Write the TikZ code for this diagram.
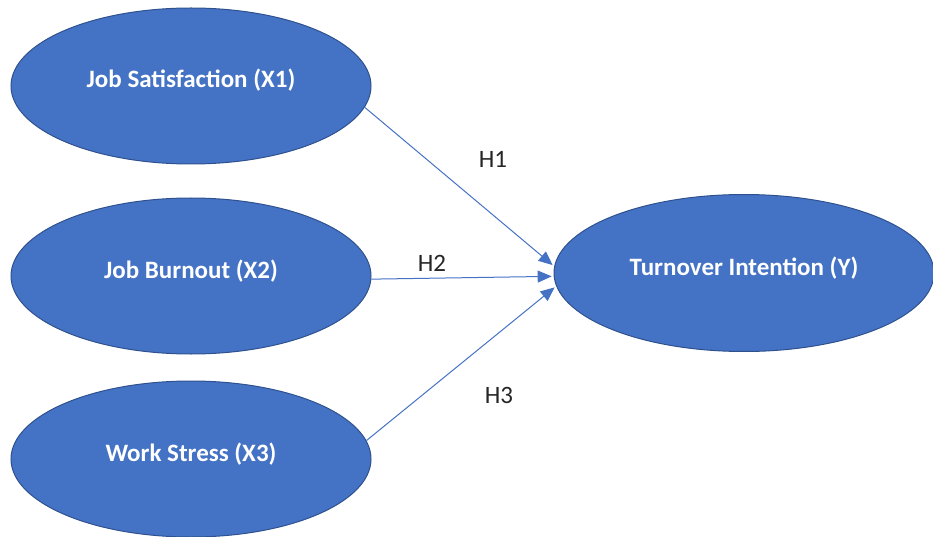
\documentclass[tikz,border=0pt]{standalone}
\usepackage{fontspec}
\setmainfont{Carlito}
\usetikzlibrary{shapes.geometric,arrows.meta}
\definecolor{boxblue}{HTML}{4472C4}
\definecolor{rimblue}{HTML}{2F528F}

\begin{document}
\begin{tikzpicture}[x=1pt,y=-1pt,
        factor/.style={ellipse,draw=rimblue,line width=1pt,fill=boxblue,text=white,
            font=\fontsize{25}{30}\selectfont\bfseries,inner sep=0pt,
            text height=18pt,text depth=14pt, % lifts the text a little
            minimum width=360pt,minimum height=156pt},
        path/.style={draw=boxblue,line width=1pt,-{Triangle[length=14pt,width=12pt]},shorten >=2pt},
        hyp/.style={font=\fontsize{25}{30}\selectfont,text=black!85}]
        \useasboundingbox (0,0) rectangle (933,537); % same size as the picture
        \node[factor] (js) at (191,86) {Job Satisfaction (X1)};
        \node[factor] (jb) at (191,276) {Job Burnout (X2)};
        \node[factor] (ws) at (191,459) {Work Stress (X3)};
        \node[factor,minimum width=380pt,minimum height=157pt] (ti) at (744,273) {Turnover Intention (Y)};
        % hypotheses
        \draw[path] (js.-7) -- (ti.178.3);
        \draw[path] (jb.-1.5) -- (ti.181.5);
        \draw[path] (ws.6) -- (ti.184);
        \node[hyp] (h1) at (493,159) {H1};
        \node[hyp] (h2) at (432,263) {H2};
        \node[hyp] (h3) at (499,395) {H3};
    \end{tikzpicture}
\end{document}
